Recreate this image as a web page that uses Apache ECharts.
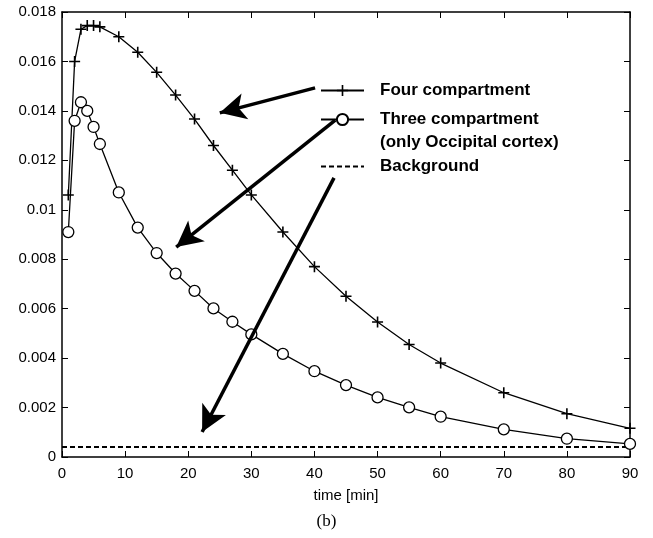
<!DOCTYPE html>
<html>
<head>
<meta charset="utf-8">
<script src="https://cdn.jsdelivr.net/npm/echarts@6/dist/echarts.min.js"></script>
<style>
  html, body { margin: 0; padding: 0; background: #fff; }
  #chart { width: 653px; height: 538px; }
</style>
</head>
<body>
<div id="chart"></div>
<script>
// time points [min]
const timeFour = [1, 2, 3, 4, 5, 6, 9, 12, 15, 18, 21, 24, 27, 30, 35, 40, 45, 50, 55, 60, 70, 80, 90];
const fourComp = [0.0106, 0.0160, 0.0173, 0.01745, 0.01745, 0.0174, 0.0170, 0.01637, 0.01556, 0.01464, 0.01367,
  0.0126, 0.0116, 0.0106, 0.0091, 0.0077, 0.0065, 0.00546, 0.00455, 0.0038, 0.0026, 0.00175, 0.00116];

const timeThree = [1, 2, 3, 4, 5, 6, 9, 12, 15, 18, 21, 24, 27, 30, 35, 40, 45, 50, 55, 60, 70, 80, 90];
const threeComp = [0.0091, 0.0136, 0.01435, 0.0140, 0.01335, 0.01266, 0.0107, 0.00928, 0.00825, 0.00742, 0.00672,
  0.00601, 0.00547, 0.00496, 0.00417, 0.00347, 0.00291, 0.00241, 0.00201, 0.00163, 0.00112, 0.00074, 0.00053];

const timeBg = [0, 90];
const background = [0.0004, 0.0004];

// annotation arrows: [tStart, vStart, tEnd, vEnd]
const arrows = [
  [40.1, 0.01493, 25.0, 0.01392],
  [43.3, 0.01363, 18.1, 0.00849],
  [43.1, 0.01129, 22.2, 0.00101]
];

const pair = (xs, ys) => xs.map((x, i) => [x, ys[i]]);

const plusPath = 'path://M4.7,0h1.6v4.7h4.7v1.6h-4.7v4.7h-1.6v-4.7h-4.7v-1.6h4.7z';
const font = 'Liberation Sans, Arial, sans-serif';

const chart = echarts.init(document.getElementById('chart'));

const axisCommon = {
  axisLine: { show: true, onZero: false, lineStyle: { color: '#000', width: 1.5 } },
  axisTick: { show: true, inside: true, length: 6, lineStyle: { color: '#000', width: 1 } },
  splitLine: { show: false }
};

const legendText = { color: '#000', fontFamily: font, fontSize: 17, fontWeight: 'bold', padding: [0, 0, 0, 11] };

chart.setOption({
  animation: false,
  backgroundColor: '#fff',
  grid: { left: 62, right: 23, top: 12, bottom: 81 },
  xAxis: [
    Object.assign({
      type: 'value', min: 0, max: 90, interval: 10, position: 'bottom',
      name: 'time [min]', nameLocation: 'middle', nameGap: 31,
      nameTextStyle: { color: '#000', fontFamily: font, fontSize: 15 },
      axisLabel: { color: '#000', fontFamily: font, fontSize: 15, margin: 9 }
    }, axisCommon),
    Object.assign({
      type: 'value', min: 0, max: 90, interval: 10, position: 'top',
      axisLabel: { show: false }
    }, axisCommon)
  ],
  yAxis: [
    Object.assign({
      type: 'value', min: 0, max: 0.018, interval: 0.002, position: 'left',
      axisLabel: { color: '#000', fontFamily: font, fontSize: 15, margin: 6,
        formatter: v => String(parseFloat(v.toFixed(3))) }
    }, axisCommon),
    Object.assign({
      type: 'value', min: 0, max: 0.018, interval: 0.002, position: 'right',
      axisLabel: { show: false }
    }, axisCommon)
  ],
  legend: [
    {
      data: ['Four compartment', 'Three compartment'],
      orient: 'vertical', left: 320, top: 82, padding: 0, itemWidth: 43, itemHeight: 14, itemGap: 12,
      textStyle: legendText
    },
    {
      data: [{ name: 'Background', itemStyle: { opacity: 0 } }],
      orient: 'vertical', left: 320, top: 158, padding: 0, itemWidth: 43, itemHeight: 14,
      textStyle: legendText
    }
  ],
  graphic: [
    { type: 'text', left: 380, top: 134,
      style: { text: '(only Occipital cortex)', fill: '#000', font: 'bold 17px ' + font } },
    { type: 'text', left: 'center', top: 513,
      style: { text: '(b)', fill: '#000', font: '17px Liberation Serif, Times New Roman, serif' } }
  ],
  series: [
    {
      name: 'Four compartment', type: 'line', data: pair(timeFour, fourComp),
      symbol: plusPath, symbolSize: 11, showAllSymbol: true,
      itemStyle: { color: '#000' },
      lineStyle: { color: '#000', width: 1.3 },
      markLine: {
        silent: true, symbol: ['none', 'arrow'], symbolSize: [20, 26], label: { show: false },
        lineStyle: { color: '#000', width: 3.5, type: 'solid' },
        data: arrows.map(a => [{ coord: [a[0], a[1]] }, { coord: [a[2], a[3]] }])
      }
    },
    {
      name: 'Three compartment', type: 'line', data: pair(timeThree, threeComp),
      symbol: 'circle', symbolSize: 11, showAllSymbol: true,
      itemStyle: { color: '#fff', borderColor: '#000', borderWidth: 1.3 },
      lineStyle: { color: '#000', width: 1.3 }
    },
    {
      name: 'Background', type: 'line', data: pair(timeBg, background),
      symbol: 'none', itemStyle: { color: '#000' },
      lineStyle: { color: '#000', width: 2, type: [5, 3] }
    }
  ]
});
</script>
</body>
</html>
